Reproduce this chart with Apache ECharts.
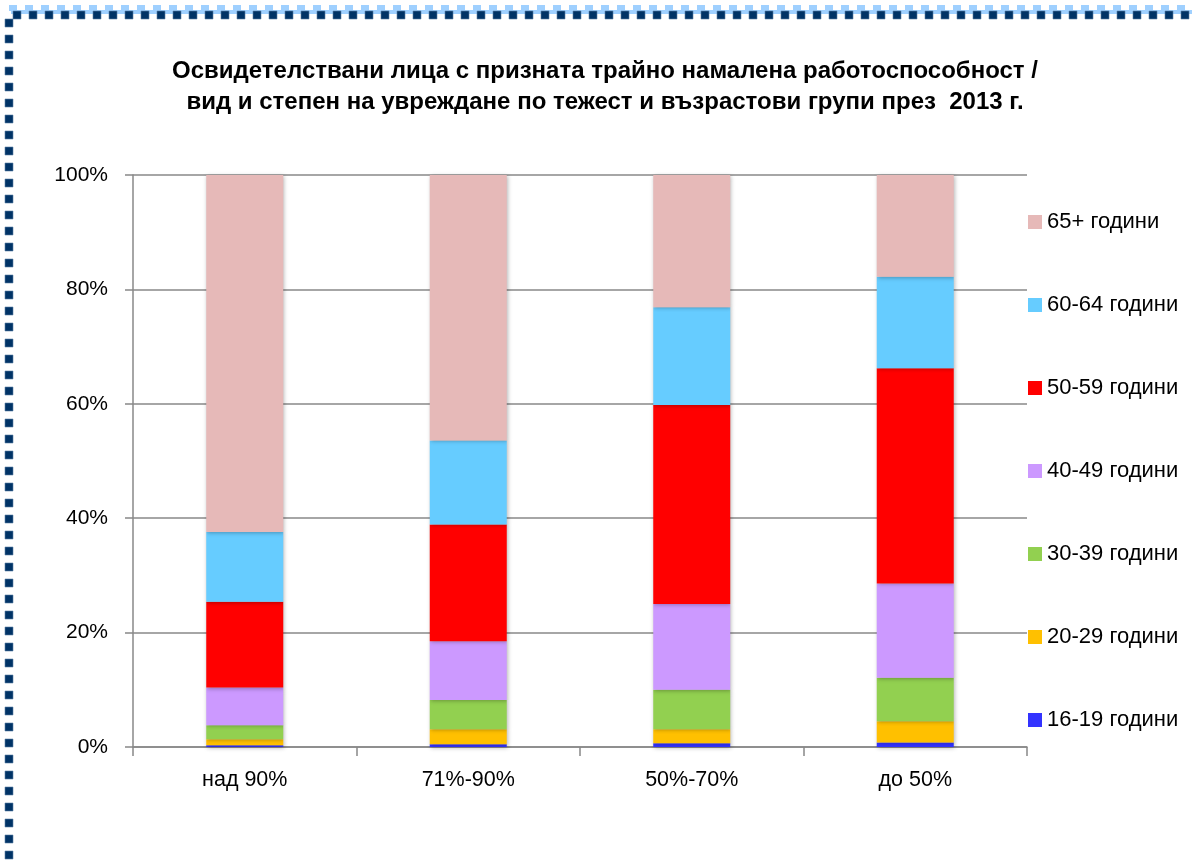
<!DOCTYPE html>
<html>
<head>
<meta charset="utf-8">
<script src="https://cdn.jsdelivr.net/npm/echarts@6/dist/echarts.min.js"></script>
<style>
  html, body { margin: 0; padding: 0; background: #fff; }
  #chart { width: 1192px; height: 865px; }
</style>
</head>
<body>
<div id="chart"></div>
<script>
// Categories: degree of reduced working capacity
const categories = ['над 90%', '71%-90%', '50%-70%', 'до 50%'];

// Share (%) of each age group within every category, stacked bottom to top
const age16_19 = [0.3, 0.5, 0.65, 0.8];
const age20_29 = [1.05, 2.6, 2.45, 3.7];
const age30_39 = [2.45, 5.1, 6.9, 7.6];
const age40_49 = [6.6, 10.3, 15.0, 16.5];
const age50_59 = [15.0, 20.4, 34.8, 37.6];
const age60_64 = [12.2, 14.7, 17.1, 16.0];
const age65plus = [62.4, 46.4, 23.1, 17.8];

const seriesNames = ['16-19 години', '20-29 години', '30-39 години', '40-49 години', '50-59 години', '60-64 години', '65+ години'];
const seriesValues = [age16_19, age20_29, age30_39, age40_49, age50_59, age60_64, age65plus];
const seriesColors = ['#3333ff', '#ffc000', '#92d050', '#cc99ff', '#ff0000', '#66ccff', '#e6b9b8'];

const yTicks = [0, 20, 40, 60, 80, 100];

const titleLines = [
  'Освидетелствани лица с призната трайно намалена работоспособност /',
  'вид и степен на увреждане по тежест и възрастови групи през  2013 г.'
];

const FONT = '"Liberation Sans", Arial, sans-serif';

// Decorative dotted frame along the top and left edges
function frameGraphics() {
  const els = [];
  const W = 1192, H = 865;
  els.push({ type: 'rect', shape: { x: 11, y: 10, width: W - 11, height: 4 }, style: { fill: '#9fd0ff' }, silent: true });
  for (let x = 9; x < W; x += 16) {
    els.push({ type: 'rect', shape: { x: x, y: 5, width: 8, height: 6 }, style: { fill: '#9fd0ff' }, silent: true });
  }
  for (let x = 13; x < W; x += 16) {
    els.push({ type: 'rect', shape: { x: x, y: 11, width: 8, height: 8 }, style: { fill: '#003366', stroke: '#5a7fa6', lineWidth: 0.6 }, silent: true });
  }
  for (let y = 19; y < H; y += 16) {
    els.push({ type: 'rect', shape: { x: 5, y: y, width: 8, height: 8 }, style: { fill: '#003366', stroke: '#5a7fa6', lineWidth: 0.6 }, silent: true });
  }
  return els;
}

const chart = echarts.init(document.getElementById('chart'), null, { renderer: 'canvas' });

const option = {
  backgroundColor: '#ffffff',
  animation: false,
  graphic: frameGraphics().concat(titleLines.map((t, i) => ({
    type: 'text',
    x: 605,
    y: 71 + i * 31,
    style: {
      text: t,
      fill: '#000',
      font: 'bold 24px ' + FONT,
      textAlign: 'center',
      textVerticalAlign: 'middle'
    },
    silent: true
  }))),
  grid: { left: 133, right: 165, top: 175, bottom: 118, containLabel: false },
  legend: {
    orient: 'vertical',
    left: 1028,
    top: 211,
    padding: 0,
    data: seriesNames.slice().reverse(),
    icon: 'rect',
    itemWidth: 14,
    itemHeight: 14,
    itemGap: 61,
    textStyle: { fontFamily: FONT, fontSize: 22, color: '#000', lineHeight: 22 }
  },
  xAxis: {
    type: 'category',
    data: categories,
    axisLine: { show: true, lineStyle: { color: '#888', width: 1.5 } },
    axisTick: { show: true, length: 9, alignWithLabel: false, lineStyle: { color: '#888', width: 1.5 } },
    axisLabel: { fontFamily: FONT, fontSize: 21.5, color: '#000', margin: 22 }
  },
  yAxis: {
    type: 'value',
    min: 0,
    max: 100,
    interval: 20,
    axisLine: { show: true, lineStyle: { color: '#888', width: 1.5 } },
    axisTick: { show: true, length: 8, lineStyle: { color: '#888', width: 1.5 } },
    axisLabel: {
      fontFamily: FONT, fontSize: 21, color: '#000', margin: 25,
      formatter: v => (yTicks.indexOf(v) >= 0 ? v + '%' : '')
    },
    splitLine: { show: true, lineStyle: { color: '#888', width: 1.5 } }
  },
  series: seriesNames.map((name, i) => ({
    name: name,
    type: 'bar',
    stack: 'total',
    barWidth: 77,
    data: seriesValues[i],
    itemStyle: {
      color: seriesColors[i],
      shadowColor: 'rgba(0,0,0,0.28)',
      shadowBlur: 4,
      shadowOffsetX: 1,
      shadowOffsetY: 1
    }
  }))
};

chart.setOption(option);
</script>
</body>
</html>
